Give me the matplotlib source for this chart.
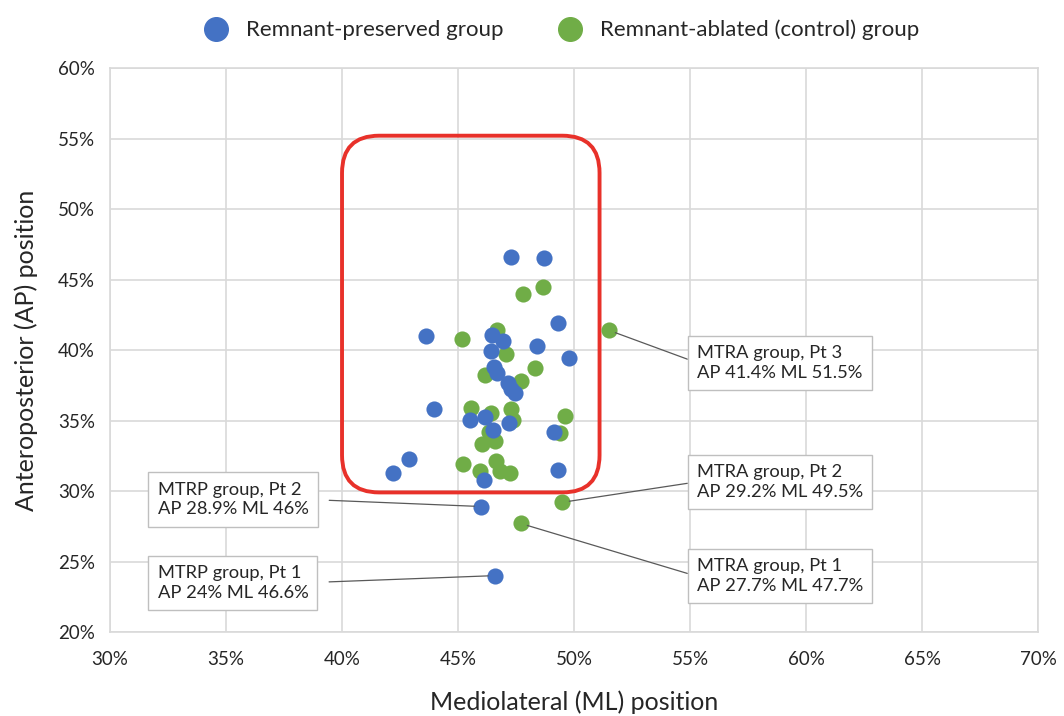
# ML/AP positions of femoral tunnels, remnant-preserved vs remnant-ablated groups
import matplotlib
matplotlib.use("Agg")
import matplotlib.pyplot as plt
from matplotlib.patches import FancyBboxPatch
from matplotlib.lines import Line2D
from matplotlib.ticker import FuncFormatter

plt.rcParams['font.family'] = ['Lato', 'DejaVu Sans']

# remnant-preserved (MTRP) group: ML %, AP %
blue_ml = [47.3, 48.7, 49.3, 43.6, 46.45, 46.95, 46.4, 48.4, 49.8, 46.55, 46.7, 47.15, 47.3,
           47.45, 43.95, 45.5, 46.15, 47.2, 46.5, 49.15, 42.9, 42.2, 46.1, 49.3, 46.0, 46.6]
blue_ap = [46.6, 46.5, 41.9, 41.0, 41.1, 40.65, 39.95, 40.3, 39.4, 38.8, 38.4, 37.65, 37.2,
           36.95, 35.85, 35.05, 35.25, 34.85, 34.35, 34.2, 32.3, 31.25, 30.8, 31.5, 28.9, 24.0]

# remnant-ablated (MTRA, control) group
green_ml = [47.8, 48.65, 51.5, 45.15, 46.7, 47.05, 48.3, 46.15, 47.7, 45.55, 46.4, 47.3, 47.35,
            49.6, 49.4, 46.35, 46.05, 46.6, 45.2, 46.65, 45.95, 46.8, 47.25, 49.5, 47.7]
green_ap = [44.0, 44.45, 41.4, 40.75, 41.45, 39.75, 38.7, 38.2, 37.8, 35.9, 35.5, 35.8, 35.05,
            35.3, 34.1, 34.2, 33.35, 33.55, 31.95, 32.1, 31.4, 31.45, 31.25, 29.2, 27.7]

# highlighted zone (ML from-to, AP from-to)
zone_ml = (40.0, 51.1)
zone_ap = (29.9, 55.2)

# callouts: text, point (ML, AP), text anchor (ML, AP), side
notes = [
    ("MTRA group, Pt 3\nAP 41.4% ML 51.5%", (51.5, 41.4), (55.3, 39.1), "r"),
    ("MTRA group, Pt 2\nAP 29.2% ML 49.5%", (49.5, 29.2), (55.3, 30.65), "r"),
    ("MTRA group, Pt 1\nAP 27.7% ML 47.7%", (47.7, 27.7), (55.3, 23.95), "r"),
    ("MTRP group, Pt 2\nAP 28.9% ML 46%", (46.0, 28.9), (32.05, 29.4), "l"),
    ("MTRP group, Pt 1\nAP 24% ML 46.6%", (46.6, 24.0), (32.05, 23.5), "l"),
]

blue = "#4472C4"
green = "#70AD47"
grid_c = "#d9d9d9"
txt_c = "#262626"

fig = plt.figure(figsize=(10.64, 7.16), dpi=100)
ax = fig.add_axes([0.1034, 0.1173, 0.8722, 0.7877])

ax.set_xlim(30, 70)
ax.set_ylim(20, 60)
ax.set_xticks(range(30, 71, 5))
ax.set_yticks(range(20, 61, 5))
pct = FuncFormatter(lambda v, p: f"{v:.0f}%")
ax.xaxis.set_major_formatter(pct)
ax.yaxis.set_major_formatter(pct)
ax.tick_params(length=0, labelsize=13.5, colors=txt_c)
ax.tick_params(axis="y", pad=11)
ax.tick_params(axis="x", pad=14)
ax.grid(True, color=grid_c, lw=1.2)
ax.set_axisbelow(True)
for s in ax.spines.values():
    s.set_color(grid_c)
    s.set_linewidth(1.2)

zone = FancyBboxPatch((zone_ml[0], zone_ap[0]), zone_ml[1] - zone_ml[0], zone_ap[1] - zone_ap[0],
                      boxstyle="round,pad=0,rounding_size=1.6", mutation_aspect=1.65,
                      fill=False, ec="#e8312a", lw=2.8, zorder=2)
ax.add_patch(zone)

ax.scatter(green_ml, green_ap, s=135, color=green, lw=0, zorder=3)
ax.scatter(blue_ml, blue_ap, s=135, color=blue, lw=0, zorder=4)

for txt, pt, tp, side in notes:
    ax.annotate(txt, xy=pt, xytext=tp, textcoords="data", ha="left", va="center",
                fontsize=13.2, color=txt_c, linespacing=1.3,
                bbox=dict(boxstyle="square,pad=0.5", fc="white", ec="#bfbfbf", lw=1),
                arrowprops=dict(arrowstyle="-", color="#595959", lw=0.9,
                                relpos=(0, 0.5) if side == "r" else (1, 0.5),
                                shrinkA=0 if side == "r" else 8, shrinkB=5),
                zorder=5)

ax.set_xlabel("Mediolateral (ML) position", fontsize=18, color=txt_c, labelpad=16)
ax.set_ylabel("Anteroposterior (AP) position", fontsize=18, color=txt_c, labelpad=14)

handles = [Line2D([], [], marker="o", ls="", ms=17, color=blue),
           Line2D([], [], marker="o", ls="", ms=17, color=green)]
fig.legend(handles, ["Remnant-preserved group", "Remnant-ablated (control) group"],
           loc="center", bbox_to_anchor=(0.523, 0.958), ncol=2, frameon=False,
           fontsize=16, handletextpad=0.35, columnspacing=2.0, labelcolor=txt_c)

fig.savefig("out.png", dpi=100)
